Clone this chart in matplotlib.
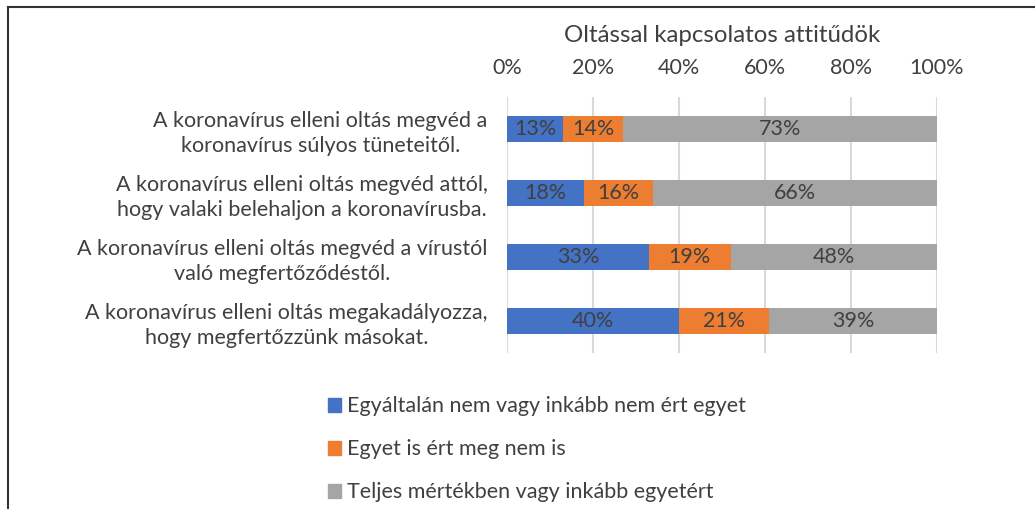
import numpy as np
import matplotlib.pyplot as plt
from matplotlib.lines import Line2D
from matplotlib.patches import Patch

# data
statements = ["A koronavírus elleni oltás megvéd a\nkoronavírus súlyos tüneteitől.",
              "A koronavírus elleni oltás megvéd attól,\nhogy valaki belehaljon a koronavírusba.",
              "A koronavírus elleni oltás megvéd a vírustól\nvaló megfertőződéstől.",
              "A koronavírus elleni oltás megakadályozza,\nhogy megfertőzzünk másokat."]
disagree = [13, 18, 33, 40]
neutral = [14, 16, 19, 21]
agree = [73, 66, 48, 39]
series_names = ["Egyáltalán nem vagy inkább nem ért egyet",
                "Egyet is ért meg nem is",
                "Teljes mértékben vagy inkább egyetért"]
colors = ["#4472C4", "#ED7D31", "#A5A5A5"]
title = "Oltással kapcsolatos attitűdök"

plt.rcParams['font.family'] = ['Lato', 'DejaVu Sans']
txt = "#404040"
fs = 15.5

fig = plt.figure(figsize=(10.35, 5.09), dpi=100)
ax = fig.add_axes([507 / 1035, 1 - 353 / 509, 430 / 1035, 256 / 509])

y = np.arange(len(statements))
left = np.zeros(len(statements))
for vals, col, name in zip([disagree, neutral, agree], colors, series_names):
    bars = ax.barh(y, vals, left=left, height=0.4, color=col, label=name, zorder=3)
    ax.bar_label(bars, labels=[f"{v}%" for v in vals], label_type="center",
                 color=txt, fontsize=fs)
    left += np.array(vals)

ax.set_xlim(0, 100)
ax.set_ylim(3.5, -0.5)
ax.xaxis.tick_top()
ax.set_xticks(range(0, 101, 20))
ax.set_xticklabels([f"{t}%" for t in range(0, 101, 20)])
ax.tick_params(axis="x", length=0, pad=14, labelsize=fs, labelcolor=txt)
ax.set_yticks(y)
ax.set_yticklabels(statements, ha="right", multialignment="center", linespacing=1.3)
ax.tick_params(axis="y", length=0, pad=14, labelsize=fs, labelcolor=txt)
ax.grid(axis="x", color="#D9D9D9", linewidth=1.5, zorder=0)
for s in ax.spines.values():
    s.set_visible(False)

fig.text(722 / 1035, 1 - 36 / 509, title, ha="center", va="center",
         fontsize=17.3, color=txt)

handles = [Patch(color=c) for c in colors]
fig.legend(handles, series_names, loc="upper left", bbox_to_anchor=(309 / 1035, 1 - 377 / 509),
           frameon=False, fontsize=fs, labelcolor=txt, handlelength=0.6, handleheight=0.6,
           handletextpad=0.25, labelspacing=1.07)

# frame lines (left and top)
fig.add_artist(Line2D([8 / 1035, 8 / 1035], [0, 1 - 7 / 509], transform=fig.transFigure,
                      color="#333333", linewidth=1.5))
fig.add_artist(Line2D([8 / 1035, 1], [1 - 7 / 509, 1 - 7 / 509], transform=fig.transFigure,
                      color="#333333", linewidth=1.5))

fig.savefig("out.png", dpi=100)
